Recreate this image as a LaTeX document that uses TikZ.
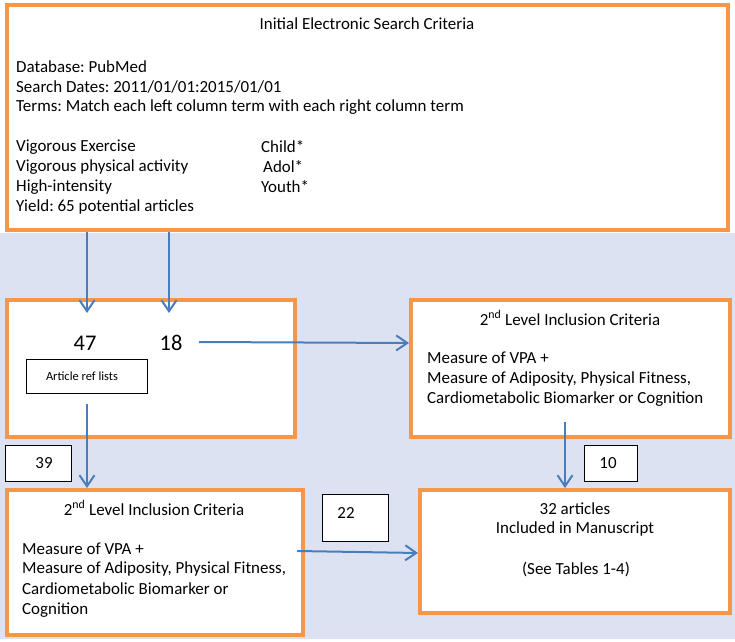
\documentclass[tikz,border=0pt]{standalone}
\usepackage{fontspec}
\setmainfont{Carlito}
\frenchspacing
\usetikzlibrary{arrows.meta}
\definecolor{boxorange}{HTML}{F79646}
\definecolor{arrowblue}{HTML}{4A7EBB}
\definecolor{lavender}{HTML}{DDE2F2}
\tikzset{
  obox/.style={draw=boxorange, line width=4bp, fill=white, inner sep=0pt},
  sbox/.style={draw=black, line width=0.9bp, fill=white, inner sep=0pt},
  txt/.style={inner sep=0pt, font=\fontsize{17}{20}\selectfont},
  bigtxt/.style={inner sep=0pt, font=\fontsize{22.5}{26}\selectfont},
  smalltxt/.style={inner sep=0pt, font=\fontsize{12.5}{15}\selectfont},
  arr/.style={draw=arrowblue, line width=2bp, -{Straight Barb[length=11bp,width=15bp,line width=2bp]}},
}
\begin{document}
\begin{tikzpicture}[x=1bp,y=-1bp]
\useasboundingbox (0,0) rectangle (735,642);
\fill[white] (0,0) rectangle (735,642);
\fill[lavender] (0,233) rectangle (735,639);

% boxes
\node[obox, minimum width=721bp, minimum height=225bp] (top) at (367.5,117.5) {};
\node[obox, minimum width=288bp, minimum height=137bp] (ml) at (151,368.5) {};
\node[obox, minimum width=319bp, minimum height=137bp] (mr) at (570.5,368.5) {};
\node[obox, minimum width=296bp, minimum height=145bp] (bl) at (155,562.5) {};
\node[obox, minimum width=310bp, minimum height=123bp] (br) at (575,551.5) {};

% top box text
\node[txt] (ttitle) at (367,24) {Initial Electronic Search Criteria};
\node[txt, anchor=west] (t1) at (16,67) {Database: PubMed};
\node[txt, anchor=west] (t2) at (16,87) {Search Dates: 2011/01/01:2015/01/01};
\node[txt, anchor=west] (t3) at (16,107) {Terms: Match each left column term with each right column term};
\node[txt, anchor=west] (t4) at (16,147) {Vigorous Exercise};
\node[txt, anchor=west] (t5) at (16,167) {Vigorous physical activity};
\node[txt, anchor=west] (t6) at (16,187) {High-intensity};
\node[txt, anchor=west] (t7) at (16,207) {Yield: 65 potential articles};
\node[txt, anchor=west] (r1) at (261,147) {Child*};
\node[txt, anchor=west] (r2) at (263,167) {Adol*};
\node[txt, anchor=west] (r3) at (261,187) {Youth*};

% middle left
\node[bigtxt] (n47) at (85,343) {47};
\node[bigtxt] (n18) at (171,343) {18};
\node[sbox, minimum width=121bp, minimum height=34bp] (refbox) at (86.5,376) {};
\node[smalltxt] (reftxt) at (82,376) {Article ref lists};

% middle right
\node[txt] (mrtitle) at (570,318) {2\textsuperscript{nd} Level Inclusion Criteria};
\node[txt, anchor=west] (mr1) at (427,358) {Measure of VPA +};
\node[txt, anchor=west] (mr2) at (427,379) {Measure of Adiposity, Physical Fitness,};
\node[txt, anchor=west] (mr3) at (427,399) {Cardiometabolic Biomarker or Cognition};

% bottom left
\node[txt] (bltitle) at (154,508) {2\textsuperscript{nd} Level Inclusion Criteria};
\node[txt, anchor=west] (bl1) at (22,549) {Measure of VPA +};
\node[txt, anchor=west] (bl2) at (22,569) {Measure of Adiposity, Physical Fitness,};
\node[txt, anchor=west] (bl3) at (22,589) {Cardiometabolic Biomarker or};
\node[txt, anchor=west] (bl4) at (22,610) {Cognition};

% bottom right
\node[txt] (br1) at (575,509) {32 articles};
\node[txt] (br2) at (575,529) {Included in Manuscript};
\node[txt] (br3) at (576,569) {(See Tables 1-4)};

% count boxes
\node[sbox, minimum width=66bp, minimum height=36bp] (b39) at (38,463) {};
\node[txt] (t39) at (44,463) {39};
\node[sbox, minimum width=66bp, minimum height=47bp] (b22) at (355,517.5) {};
\node[txt] (t22) at (346,513) {22};
\node[sbox, minimum width=53bp, minimum height=36bp] (b10) at (610.5,463) {};
\node[txt] (t10) at (608,463) {10};

% connector end points
\coordinate (s47) at (87,232);
\coordinate (e47) at (87,313);
\coordinate (s18) at (169,232);
\coordinate (e18) at (169,313);
\coordinate (sright) at (199,342);
\coordinate (s39) at (87,404);
\coordinate (s10) at (565,422);
\coordinate (s22) at (297,551);

\draw[arr] (s47) -- (e47);
\draw[arr] (s18) -- (e18);
\draw[arr] (sright) -- (mr.west |- 0,343);
\draw[arr] (s39) -- (s39 |- bl.north);
\draw[arr] (s10) -- (s10 |- br.north);
\draw[arr] (s22) -- (br.west |- 0,553);
\end{tikzpicture}
\end{document}
